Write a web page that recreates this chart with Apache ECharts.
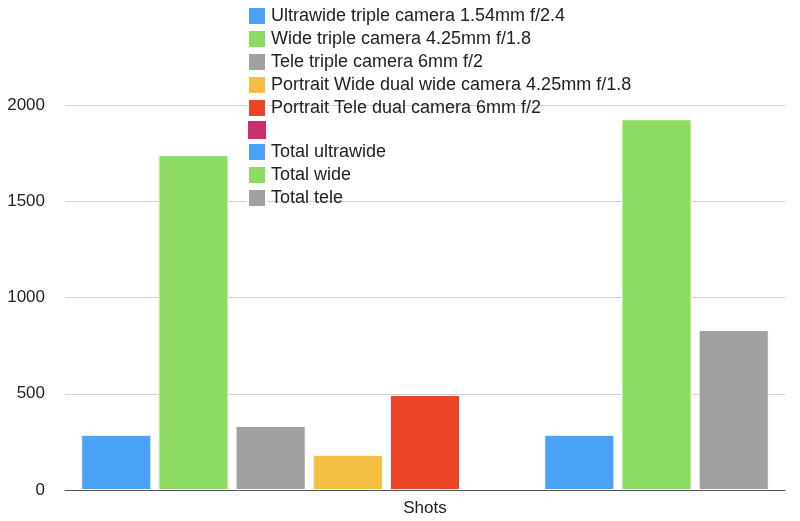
<!DOCTYPE html>
<html><head><meta charset="utf-8">
<script src="https://cdn.jsdelivr.net/npm/echarts@6/dist/echarts.min.js"></script>
<style>html,body{margin:0;background:#fff}#c{width:800px;height:521px}</style>
</head><body><div id="c"></div>
<script>
var categories = ['Shots'];
var seriesNames = ['Ultrawide triple camera 1.54mm f/2.4', 'Wide triple camera 4.25mm f/1.8', 'Tele triple camera 6mm f/2',
  'Portrait Wide dual wide camera 4.25mm f/1.8', 'Portrait Tele dual camera 6mm f/2', ' ',
  'Total ultrawide', 'Total wide', 'Total tele'];
var seriesValues = [287, 1740, 333, 183, 494, 0, 287, 1926, 831];
var colors = ['#4aa3f7', '#8cdc64', '#a0a0a0', '#f2bf42', '#ec4428', '#c8306e', '#4aa3f7', '#8cdc64', '#a0a0a0'];

var chart = echarts.init(document.getElementById('c'));
chart.setOption({
  animation: false,
  color: colors,
  textStyle: { fontFamily: 'Helvetica, Arial, Liberation Sans, sans-serif' },
  legend: {
    orient: 'vertical', left: 242, top: 1, itemWidth: 18, itemHeight: 18, itemGap: 3,
    icon: 'rect', textStyle: { fontSize: 18, color: '#222' },
    data: seriesNames
  },
  grid: { left: 65, right: 15, top: 105, bottom: 31 },
  xAxis: {
    type: 'category', data: categories, z: 10,
    axisLine: { lineStyle: { color: '#555' } }, axisTick: { show: false },
    axisLabel: { fontSize: 17, color: '#222', margin: 10 }
  },
  yAxis: {
    type: 'value', min: 0, max: 2000, interval: 500,
    axisLabel: { fontSize: 17, color: '#222', margin: 20, formatter: function (v) { return String(v); } },
    splitLine: { lineStyle: { color: '#d0d0d0' } }
  },
  series: seriesNames.map(function (n, i) {
    return { name: n, type: 'bar', data: [seriesValues[i]], barGap: '10%', barCategoryGap: '4.5%',
      itemStyle: { borderColor: '#fff', borderWidth: seriesValues[i] ? 1 : 0 } };
  })
});
</script></body></html>
